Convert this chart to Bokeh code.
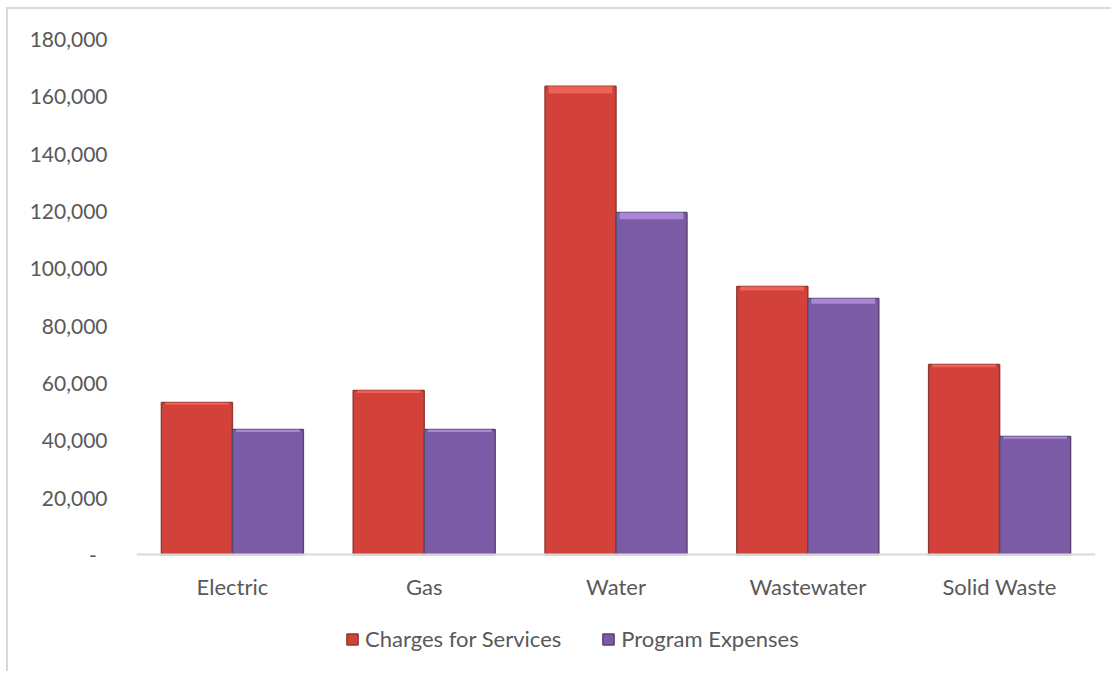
from bokeh.plotting import figure
from bokeh.models import (ColumnDataSource, FactorRange, Legend, LegendItem,
                          CustomJSTickFormatter, FixedTicker, Span)
from bokeh.transform import dodge
from bokeh.core.properties import value
from bokeh.embed import file_html
from bokeh.resources import INLINE

categories = ["Electric", "Gas", "Water", "Wastewater", "Solid Waste"]
charges = [53000, 57200, 163300, 93500, 66300]
expenses = [43600, 43600, 119300, 89300, 41200]
series_names = ["Charges for Services", "Program Expenses"]
y_ticks = [0, 20000, 40000, 60000, 80000, 100000, 120000, 140000, 160000, 180000]

FONT = "Lato"
TXT = "#595959"

src = ColumnDataSource(dict(cat=categories, charges=charges, expenses=expenses,
                            zero=[0] * len(categories),
                            charges_hi=[v * 0.985 for v in charges],
                            expenses_hi=[v * 0.98 for v in expenses]))

Y_MAX = 180000
Y_MIN = -Y_MAX * 119 / 516  # room below the baseline for labels and legend

p = figure(x_range=FactorRange(*categories, range_padding=0), y_range=(Y_MIN, Y_MAX),
           width=1105, height=664, output_backend="svg", toolbar_location=None,
           min_border_left=128, min_border_right=18, min_border_top=29, min_border_bottom=0)
p.margin = (7, 0, 0, 6)
p.styles = {"border-top": "2px solid #d9d9d9", "border-left": "2px solid #d9d9d9"}
p.outline_line_color = None
p.xgrid.grid_line_color = None
p.ygrid.grid_line_color = None
p.xaxis.visible = False

# category baseline
p.add_layout(Span(location=0, dimension="width", line_color="#d9d9d9", line_width=2))

bw = 0.37
r1 = p.vbar(x=dodge("cat", -bw / 2, range=p.x_range), top="charges", width=bw, source=src,
            fill_color="#d2413a", line_color="#8e3b35", line_width=1.5)
r2 = p.vbar(x=dodge("cat", bw / 2, range=p.x_range), top="expenses", width=bw, source=src,
            fill_color="#7b5ba6", line_color="#55476f", line_width=1.5)
# bevel highlights
p.vbar(x=dodge("cat", -bw / 2, range=p.x_range), top="charges", bottom="charges_hi",
       width=bw * 0.9, source=src, fill_color="#ec6257", line_color=None)
p.vbar(x=dodge("cat", bw / 2, range=p.x_range), top="expenses", bottom="expenses_hi",
       width=bw * 0.9, source=src, fill_color="#a887d4", line_color=None)

# category labels
p.text(x="cat", y="zero", text="cat", source=src, text_font=value(FONT),
       text_font_size="22px", text_color=TXT, text_align="center",
       text_baseline="middle", y_offset=32)

p.yaxis.ticker = FixedTicker(ticks=y_ticks)
p.yaxis.formatter = CustomJSTickFormatter(code="""
    if (tick == 0) return "-\u00a0\u00a0";
    return tick.toLocaleString('en-US');
""")
p.yaxis.axis_line_color = None
p.yaxis.major_tick_line_color = None
p.yaxis.minor_tick_line_color = None
p.yaxis.major_label_standoff = 23
p.yaxis.major_label_text_font = FONT
p.yaxis.major_label_text_font_size = "21px"
p.yaxis.major_label_text_color = TXT

legend = Legend(items=[LegendItem(label=series_names[0], renderers=[r1]),
                       LegendItem(label=series_names[1], renderers=[r2])],
                orientation="horizontal", location=(209, 21),
                label_text_font=FONT, label_text_font_size="22px", label_text_color=TXT,
                glyph_width=14, glyph_height=14, spacing=40, label_standoff=6,
                border_line_color=None, background_fill_alpha=0, margin=0, padding=4)
p.add_layout(legend, "center")

open("out.html", "w").write(file_html(p, INLINE))
